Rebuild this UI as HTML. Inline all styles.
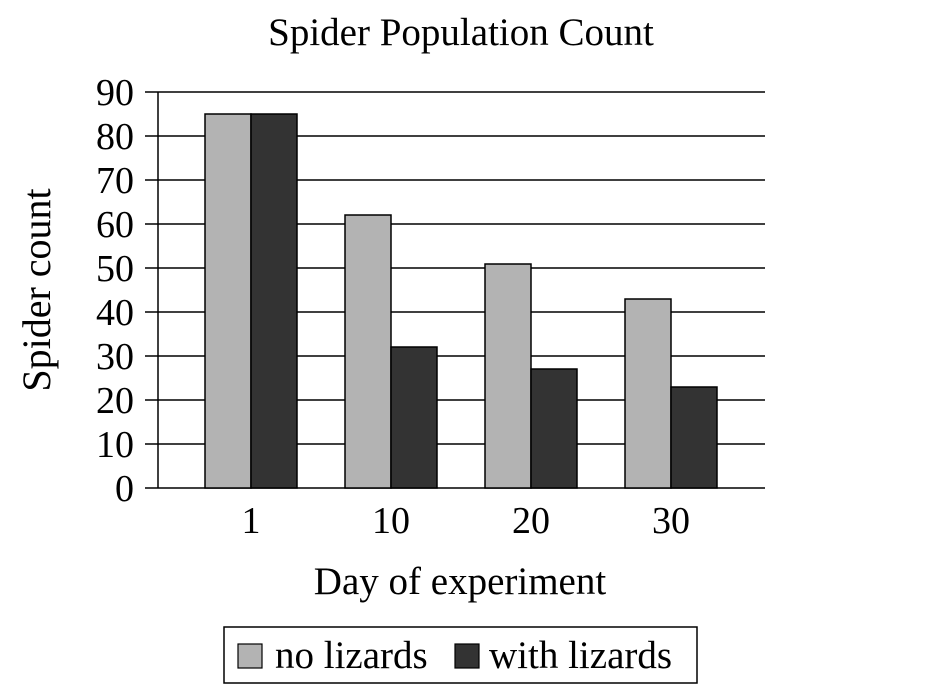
<!DOCTYPE html>
<html><head><style>html,body{margin:0;padding:0;background:#fff;}svg{display:block}</style></head>
<body>
<svg width="946" height="698" xmlns="http://www.w3.org/2000/svg" font-family="Liberation Serif, serif" fill="#000">
<text x="461" y="45" font-size="39" text-anchor="middle">Spider Population Count</text>
<g stroke="#000" stroke-width="1.5">
<line x1="145" y1="92" x2="765" y2="92"/>
<line x1="145" y1="136" x2="765" y2="136"/>
<line x1="145" y1="180" x2="765" y2="180"/>
<line x1="145" y1="224" x2="765" y2="224"/>
<line x1="145" y1="268" x2="765" y2="268"/>
<line x1="145" y1="312" x2="765" y2="312"/>
<line x1="145" y1="356" x2="765" y2="356"/>
<line x1="145" y1="400" x2="765" y2="400"/>
<line x1="145" y1="444" x2="765" y2="444"/>
<line x1="145" y1="488" x2="765" y2="488"/>
<line x1="158" y1="92" x2="158" y2="488"/>
</g>
<g stroke="#000" stroke-width="1.5">
<rect x="205" y="114" width="46" height="374" fill="#b3b3b3"/>
<rect x="251" y="114" width="46" height="374" fill="#333"/>
<rect x="345" y="215" width="46" height="273" fill="#b3b3b3"/>
<rect x="391" y="347" width="46" height="141" fill="#333"/>
<rect x="485" y="264" width="46" height="224" fill="#b3b3b3"/>
<rect x="531" y="369" width="46" height="119" fill="#333"/>
<rect x="625" y="299" width="46" height="189" fill="#b3b3b3"/>
<rect x="671" y="387" width="46" height="101" fill="#333"/>
</g>
<g font-size="38" text-anchor="end">
<text x="134" y="105">90</text><text x="134" y="149">80</text><text x="134" y="193">70</text>
<text x="134" y="237">60</text><text x="134" y="281">50</text><text x="134" y="325">40</text>
<text x="134" y="369">30</text><text x="134" y="413">20</text><text x="134" y="457">10</text>
<text x="134" y="501">0</text>
</g>
<g font-size="38" text-anchor="middle">
<text x="251" y="533">1</text><text x="391" y="533">10</text><text x="531" y="533">20</text><text x="671" y="533">30</text>
</g>
<text x="460" y="594" font-size="39" text-anchor="middle">Day of experiment</text>
<text transform="translate(50,290) rotate(-90)" font-size="40" text-anchor="middle">Spider count</text>
<rect x="224" y="627" width="473" height="56" fill="none" stroke="#000" stroke-width="1.5"/>
<rect x="238" y="644" width="24" height="24" fill="#b3b3b3" stroke="#000" stroke-width="1.2"/>
<text x="275" y="668" font-size="39">no lizards</text>
<rect x="455" y="644" width="24" height="24" fill="#333" stroke="#000" stroke-width="1.2"/>
<text x="489" y="668" font-size="39">with lizards</text>
</svg>
</body></html>
